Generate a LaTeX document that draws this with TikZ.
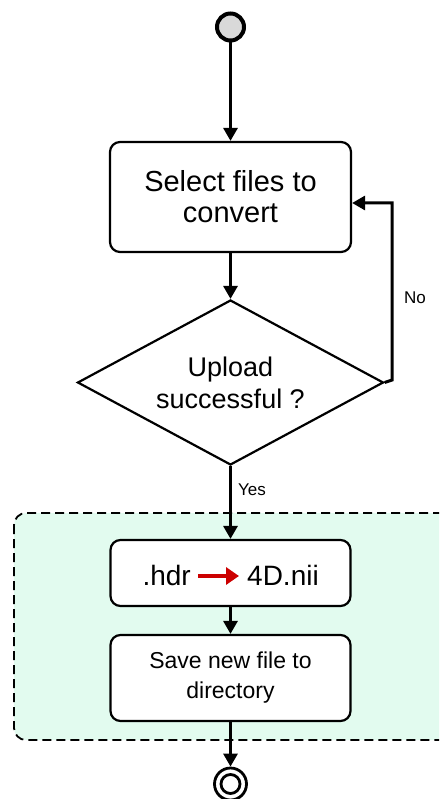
\documentclass[tikz,border=0pt]{standalone}
\usepackage{fontspec}
\setmainfont{Liberation Sans}
\usetikzlibrary{arrows.meta,shapes.geometric,calc}
\definecolor{groupfill}{RGB}{226,251,239}
\definecolor{startgray}{RGB}{217,217,217}
\definecolor{arrowred}{RGB}{204,0,0}
\begin{document}
\begin{tikzpicture}[x=1pt,y=1pt,
  box/.style={draw, line width=2.2pt, rounded corners=10pt, fill=white, align=center, inner sep=0pt},
  flow/.style={line width=3pt, -{Triangle[length=13pt,width=14pt]}},
  lbl/.style={font=\fontsize{17}{19}\selectfont, inner sep=0pt},
  group/.style={draw, line width=1.8pt, dash pattern=on 9pt off 5pt, fill=groupfill, rounded corners=12pt}]
\useasboundingbox (0,0) rectangle (439,-799);
\clip (0,0) rectangle (439,-799);
% group background
\draw[group] (14,-513) rectangle (470,-740);
% start
\node[circle, draw, line width=4pt, fill=startgray, minimum size=27pt, inner sep=0pt] (start) at (230.5,-27) {};
% select files
\node[box, minimum width=241pt, minimum height=110pt, font=\fontsize{29}{31}\selectfont] (select) at (230.5,-197) {Select files to\\convert};
% decision
\node[diamond, draw, line width=2.2pt, fill=white, aspect=1.85, minimum width=306pt, minimum height=165pt, inner sep=0pt, align=center, font=\fontsize{27}{32}\selectfont] (upload) at (230.5,-382.5) {Upload\\successful ?};
% conversion box
\node[box, minimum width=240pt, minimum height=66pt] (conv) at (230.5,-573) {};
\node[font=\fontsize{28}{30}\selectfont, inner sep=1pt, anchor=east] (hdr) at (192,-575) {.hdr};
\node[font=\fontsize{28}{30}\selectfont, inner sep=1pt, anchor=west] (nii) at (246,-575) {4D.nii};
\draw[arrowred, line width=3.5pt, -{Triangle[length=13pt,width=17pt]}] ($(hdr.east)+(6,-1)$) -- ($(nii.west)+(-7,-1)$);
% save box
\node[box, minimum width=240pt, minimum height=86pt, font=\fontsize{23}{30}\selectfont] (save) at (230.5,-678) {Save new file to\\directory};
% end
\node[circle, draw, line width=2.8pt, minimum size=32pt, inner sep=0pt, fill=white] (end) at (230.5,-784) {};
\node[circle, draw, line width=2.8pt, minimum size=19pt, inner sep=0pt] (endin) at (end.center) {};
% connectors
\draw[flow] (start.south) -- (select.north);
\draw[flow] (select.south) -- (upload.north);
\coordinate (noturn) at (392,-380);
\coordinate (noin) at ($(select.east)+(0,-6)$);
\draw[flow] (upload.east) -- (noturn) |- (noin);
\node[lbl] (nolbl) at (415,-298) {No};
\draw[flow] (upload.south) -- (conv.north);
\node[lbl] (yeslbl) at (252,-490) {Yes};
\draw[flow] (conv.south) -- (save.north);
\draw[flow] (save.south) -- (end.north);
\end{tikzpicture}
\end{document}
